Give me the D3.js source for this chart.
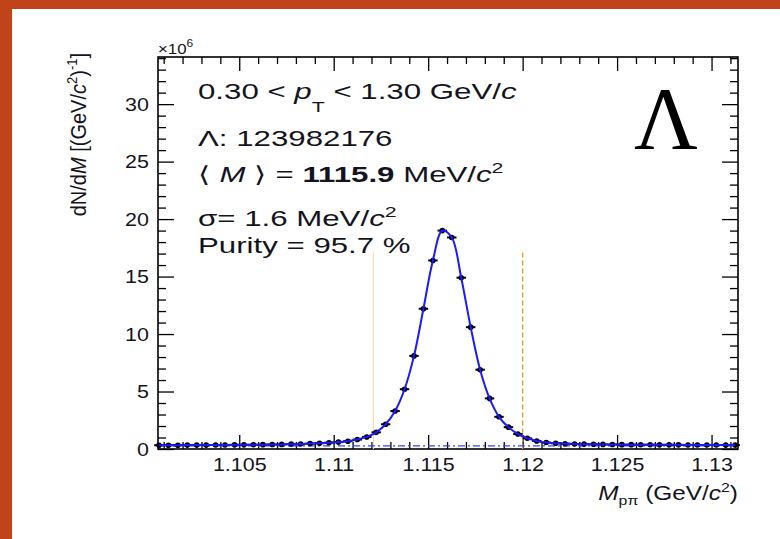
<!DOCTYPE html>
<html>
<head>
<meta charset="utf-8">
<script src="https://cdn.jsdelivr.net/npm/d3@7"></script>
<style>
  body { margin: 0; background: #ffffff; }
  svg { display: block; }
</style>
</head>
<body>
<svg id="chart" width="780" height="539"></svg>
<script>
// Invariant-mass bin centres (GeV/c^2) of the p-pi candidates
const binCenters = [
  1.10075, 1.10125, 1.10175, 1.10225, 1.10275, 1.10325, 1.10375, 1.10425, 1.10475, 1.10525,
  1.10575, 1.10625, 1.10675, 1.10725, 1.10775, 1.10825, 1.10875, 1.10925, 1.10975, 1.11025,
  1.11075, 1.11125, 1.11175, 1.11225, 1.11275, 1.11325, 1.11375, 1.11425, 1.11475, 1.11525,
  1.11575, 1.11625, 1.11675, 1.11725, 1.11775, 1.11825, 1.11875, 1.11925, 1.11975, 1.12025,
  1.12075, 1.12125, 1.12175, 1.12225, 1.12275, 1.12325, 1.12375, 1.12425, 1.12475, 1.12525,
  1.12575, 1.12625, 1.12675, 1.12725, 1.12775, 1.12825, 1.12875, 1.12925, 1.12975, 1.13025,
  1.13075, 1.13125
];
// dN/dM in units of 10^6 (GeV/c^2)^-1
const counts = [
  0.33, 0.33, 0.33, 0.34, 0.34, 0.34, 0.35, 0.35, 0.36, 0.36,
  0.37, 0.38, 0.39, 0.40, 0.42, 0.44, 0.47, 0.50, 0.55, 0.60,
  0.68, 0.82, 1.05, 1.45, 2.15, 3.30, 5.20, 8.10, 12.2, 16.4,
  19.0, 18.4, 14.9, 10.6, 6.90, 4.40, 2.80, 1.90, 1.30, 0.93,
  0.70, 0.56, 0.50, 0.46, 0.44, 0.42, 0.41, 0.40, 0.39, 0.38,
  0.38, 0.37, 0.37, 0.36, 0.36, 0.36, 0.35, 0.35, 0.35, 0.35,
  0.34, 0.34
];
const binWidth = 0.0005;

// Background component of the fit at the two ends of the mass range
const backgroundMass = [1.1007, 1.1314];
const backgroundLevel = [0.27, 0.27];

// Signal window edges
const windowLow = 1.1121;
const windowHigh = 1.12;
const windowTop = 17.1;

// Axis ranges and ticks
const xRange = [1.1007, 1.1314];
const yRange = [0, 34.1];
const xMajorTicks = [1.105, 1.11, 1.115, 1.12, 1.125, 1.13];
const xTickLabels = ["1.105", "1.11", "1.115", "1.12", "1.125", "1.13"];
const xMinorTicks = [1.101, 1.102, 1.103, 1.104, 1.106, 1.107, 1.108, 1.109, 1.111, 1.112,
  1.113, 1.114, 1.116, 1.117, 1.118, 1.119, 1.121, 1.122, 1.123, 1.124, 1.126, 1.127,
  1.128, 1.129, 1.131];
const yMajorTicks = [0, 5, 10, 15, 20, 25, 30];
const yTickLabels = ["0", "5", "10", "15", "20", "25", "30"];
const yMinorTicks = [1, 2, 3, 4, 6, 7, 8, 9, 11, 12, 13, 14, 16, 17, 18, 19, 21, 22, 23, 24,
  26, 27, 28, 29, 31, 32, 33, 34];

const svg = d3.select("#chart");
const W = 780, H = 539;
const plot = { left: 158, right: 738, top: 57, bottom: 449 };

// Slide frame
svg.append("rect").attr("x", 0).attr("y", 0).attr("width", W).attr("height", H).attr("fill", "#c0431a");
svg.append("rect").attr("x", 12).attr("y", 9).attr("width", W - 12).attr("height", H - 9).attr("fill", "#ffffff");

const x = d3.scaleLinear().domain(xRange).range([plot.left, plot.right]);
const y = d3.scaleLinear().domain(yRange).range([plot.bottom, plot.top]);

const font = "'Liberation Sans', Arial, Helvetica, sans-serif";
const ink = "#141420";
const labelStretch = 1.13;   // tick labels are set slightly wide
const infoStretch = 1.42;    // info block is set wide

// Axes with inward ticks
function styleAxis(g) {
  g.select(".domain").remove();
  g.selectAll(".tick line").attr("stroke", "#000").attr("stroke-width", 1.3);
  g.selectAll(".tick text").attr("fill", ink).style("font-family", font).style("font-size", "19px")
    .attr("transform", `scale(${labelStretch},1)`);
}

svg.append("g").attr("transform", `translate(0,${plot.bottom})`)
  .call(d3.axisBottom(x).tickValues(xMajorTicks).tickSizeInner(-14).tickSizeOuter(0)
    .tickPadding(9).tickFormat((d, i) => xTickLabels[i]))
  .call(styleAxis);
svg.append("g").attr("transform", `translate(0,${plot.bottom})`)
  .call(d3.axisBottom(x).tickValues(xMinorTicks).tickSize(-7).tickFormat(""))
  .call(styleAxis);
svg.append("g").attr("transform", `translate(0,${plot.top})`)
  .call(d3.axisTop(x).tickValues(xMajorTicks).tickSize(-14).tickFormat(""))
  .call(styleAxis);
svg.append("g").attr("transform", `translate(0,${plot.top})`)
  .call(d3.axisTop(x).tickValues(xMinorTicks).tickSize(-7).tickFormat(""))
  .call(styleAxis);

svg.append("g").attr("transform", `translate(${plot.left},0)`)
  .call(d3.axisLeft(y).tickValues(yMajorTicks).tickSizeInner(-16).tickSizeOuter(0)
    .tickPadding(8).tickFormat((d, i) => yTickLabels[i]))
  .call(styleAxis);
svg.append("g").attr("transform", `translate(${plot.left},0)`)
  .call(d3.axisLeft(y).tickValues(yMinorTicks).tickSize(-8).tickFormat(""))
  .call(styleAxis);
svg.append("g").attr("transform", `translate(${plot.right},0)`)
  .call(d3.axisRight(y).tickValues(yMajorTicks).tickSize(-16).tickFormat(""))
  .call(styleAxis);
svg.append("g").attr("transform", `translate(${plot.right},0)`)
  .call(d3.axisRight(y).tickValues(yMinorTicks).tickSize(-8).tickFormat(""))
  .call(styleAxis);

// Frame
svg.append("rect")
  .attr("x", plot.left).attr("y", plot.top)
  .attr("width", plot.right - plot.left).attr("height", plot.bottom - plot.top)
  .attr("fill", "none").attr("stroke", "#000").attr("stroke-width", 1.6);

// Signal window
svg.append("line")
  .attr("x1", x(windowLow)).attr("x2", x(windowLow))
  .attr("y1", y(windowTop)).attr("y2", y(0))
  .attr("stroke", "#f2dcb4").attr("stroke-width", 1.2);
svg.append("line")
  .attr("x1", x(windowHigh)).attr("x2", x(windowHigh))
  .attr("y1", y(windowTop)).attr("y2", y(0))
  .attr("stroke", "#e3a23c").attr("stroke-width", 1.5).attr("stroke-dasharray", "5,3");

// Background component
svg.append("path")
  .datum(backgroundMass.map((m, i) => [m, backgroundLevel[i]]))
  .attr("d", d3.line().x(d => x(d[0])).y(d => y(d[1])))
  .attr("fill", "none").attr("stroke", "#3344ff").attr("stroke-width", 1.3)
  .attr("stroke-dasharray", "7,3,2,3");

// Data points with bin-width bars
const pts = binCenters.map((m, i) => ({ m, v: counts[i] }));
const pg = svg.append("g");
pg.selectAll("line.xerr").data(pts).join("line")
  .attr("class", "xerr")
  .attr("x1", d => x(d.m - binWidth / 2)).attr("x2", d => x(d.m + binWidth / 2))
  .attr("y1", d => y(d.v)).attr("y2", d => y(d.v))
  .attr("stroke", "#000").attr("stroke-width", 2);
pg.selectAll("circle").data(pts).join("circle")
  .attr("cx", d => x(d.m)).attr("cy", d => y(d.v)).attr("r", 2.8)
  .attr("fill", "#000");

// Total fit
svg.append("path")
  .datum(pts)
  .attr("d", d3.line().x(d => x(d.m)).y(d => y(d.v)).curve(d3.curveCatmullRom.alpha(0.5)))
  .attr("fill", "none").attr("stroke", "#1a1aff").attr("stroke-width", 2);

// Exponent label
const ex = svg.append("text").attr("transform", `translate(${plot.left},54) scale(1.2,1)`)
  .attr("fill", ink).style("font-family", font).style("font-size", "14px");
ex.append("tspan").text("×10");
ex.append("tspan").attr("dy", -7).style("font-size", "10px").text("6");

// Info block
const tx = 198;
const info = svg.append("g").attr("fill", ink).style("font-family", font).style("font-size", "22px");
function infoLine(yPos) {
  return info.append("text").attr("transform", `translate(${tx},${yPos}) scale(${infoStretch},1)`);
}
const l1 = infoLine(99);
l1.append("tspan").text("0.30 < ");
l1.append("tspan").style("font-style", "italic").text("p");
l1.append("tspan").attr("dy", 13).style("font-size", "15px").text("T");
l1.append("tspan").attr("dy", -13).text(" < 1.30 GeV/");
l1.append("tspan").style("font-style", "italic").text("c");

infoLine(146).text("Λ: 123982176");

const l3 = infoLine(182);
l3.append("tspan").text("⟨ ");
l3.append("tspan").style("font-style", "italic").text("M");
l3.append("tspan").text(" ⟩ = ");
l3.append("tspan").style("font-weight", "bold").text("1115.9");
l3.append("tspan").text(" MeV/");
l3.append("tspan").style("font-style", "italic").text("c");
l3.append("tspan").attr("dy", -9).style("font-size", "15px").text("2");

const l4 = infoLine(226);
l4.append("tspan").text("σ= 1.6 MeV/");
l4.append("tspan").style("font-style", "italic").text("c");
l4.append("tspan").attr("dy", -9).style("font-size", "15px").text("2");

infoLine(253).text("Purity = 95.7 %");

// Particle symbol
svg.append("text").attr("x", 666).attr("y", 148).attr("text-anchor", "middle")
  .attr("fill", "#000").style("font-family", "'Liberation Serif', 'Times New Roman', serif")
  .style("font-size", "88px").text("Λ");

// Axis titles
const xt = svg.append("text").attr("transform", `translate(${plot.right},500) scale(1.22,1)`)
  .attr("text-anchor", "end")
  .attr("fill", ink).style("font-family", font).style("font-size", "20px");
xt.append("tspan").style("font-style", "italic").text("M");
xt.append("tspan").attr("dy", 5).style("font-size", "13px").text("pπ");
xt.append("tspan").attr("dy", -5).text(" (GeV/");
xt.append("tspan").style("font-style", "italic").text("c");
xt.append("tspan").attr("dy", -8).style("font-size", "13px").text("2");
xt.append("tspan").attr("dy", 8).text(")");

const yt = svg.append("text").attr("transform", "translate(86,53) scale(1.1,1) rotate(-90)")
  .attr("text-anchor", "end")
  .attr("fill", ink).style("font-family", font).style("font-size", "20px");
yt.append("tspan").text("dN/d");
yt.append("tspan").style("font-style", "italic").text("M");
yt.append("tspan").text(" [(GeV/");
yt.append("tspan").style("font-style", "italic").text("c");
yt.append("tspan").attr("dy", -8).style("font-size", "13px").text("2");
yt.append("tspan").attr("dy", 8).text(")");
yt.append("tspan").attr("dy", -8).style("font-size", "13px").text("-1");
yt.append("tspan").attr("dy", 8).text("]");
</script>
</body>
</html>
